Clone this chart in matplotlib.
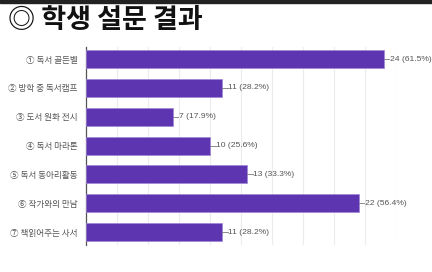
import matplotlib
matplotlib.use("Agg")
import matplotlib.pyplot as plt
from matplotlib.patches import Rectangle

plt.rcParams['font.family'] = ['Noto Sans CJK KR', 'DejaVu Sans']

title = "◎ 학생 설문 결과"
categories = ["① 독서 골든벨", "② 방학 중 독서캠프", "③ 도서 원화 전시", "④ 독서 마라톤",
              "⑤ 독서 동아리활동", "⑥ 작가와의 만남", "⑦ 책읽어주는 사서"]
counts = [24, 11, 7, 10, 13, 22, 11]
percents = ["61.5%", "28.2%", "17.9%", "25.6%", "33.3%", "56.4%", "28.2%"]
grid_ticks = [2.5, 5, 7.5, 10, 12.5, 15, 17.5, 20, 22.5, 25]

fig = plt.figure(figsize=(4.32, 2.72), dpi=100)
ax = fig.add_axes([86/432, 1-245/272, (396-86)/432, (245-47)/272])

y = list(range(len(categories)))
ax.barh(y, counts, height=0.62, color='#5E35B1', edgecolor='#9f86d6', linewidth=0.5, zorder=3)
ax.set_ylim(len(categories) - 0.55, -0.42)
ax.set_xlim(0, 25)

ax.set_xticks(grid_ticks)
ax.tick_params(axis='x', length=0, labelbottom=False)
ax.grid(axis='x', color='#ececec', linewidth=0.8, zorder=0)
ax.set_yticks(y)
ax.set_yticklabels(categories, fontsize=6.2, color='#555555')
ax.tick_params(axis='y', length=0, pad=6)
for s in ['top', 'right', 'bottom']:
    ax.spines[s].set_visible(False)
ax.spines['left'].set_color('#555555')
ax.spines['left'].set_linewidth(0.9)

for yi, c, p in zip(y, counts, percents):
    ax.plot([c, c + 0.45], [yi, yi], color='#777777', lw=0.6, clip_on=False, zorder=4)
    ax.text(c + 0.48, yi, f"{c} ({p})", va='center', ha='left', fontsize=6.1,
            color='#555555', family=['Liberation Sans', 'DejaVu Sans'], clip_on=False)

fig.add_artist(Rectangle((0, 1 - 2.5/272), 1, 2.5/272, transform=fig.transFigure,
                         color='#222222', zorder=5))
fig.text(8/432, 1 - 20/272, title, fontsize=19.5, fontweight='bold', color='#111111',
         va='center', ha='left')

fig.savefig("out.png", dpi=100)
